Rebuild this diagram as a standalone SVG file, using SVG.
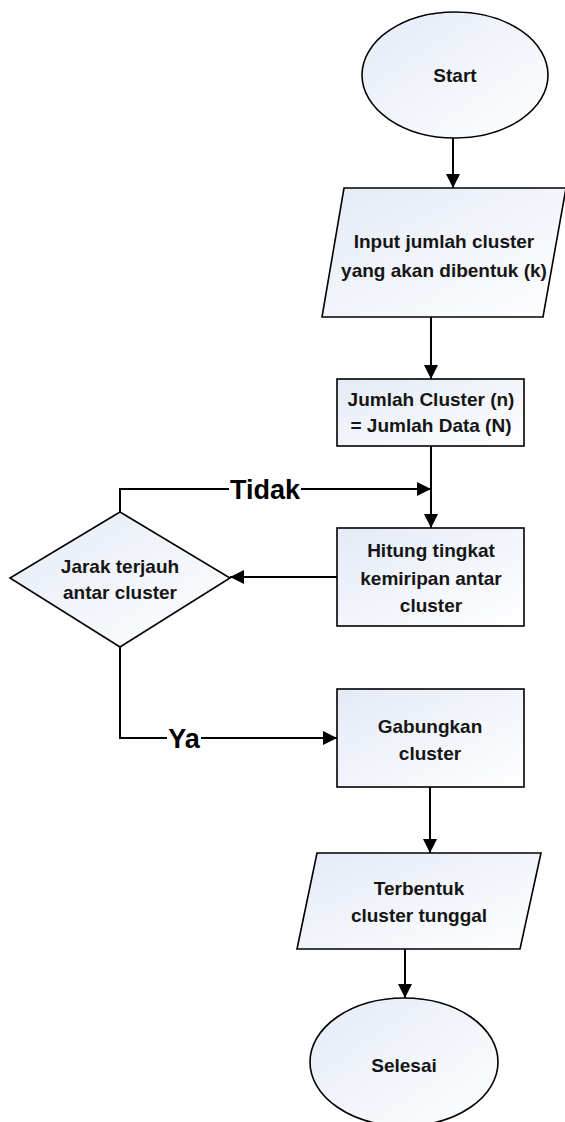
<svg xmlns="http://www.w3.org/2000/svg" width="565" height="1122" viewBox="0 0 565 1122">
<defs>
<linearGradient id="fillg" x1="0" y1="0" x2="1" y2="1">
<stop offset="0" stop-color="#e4eaf6"/>
<stop offset="1" stop-color="#ffffff"/>
</linearGradient>
<marker id="arr" viewBox="0 0 14 14" refX="14" refY="7" markerWidth="14" markerHeight="14" markerUnits="userSpaceOnUse" orient="auto">
<path d="M0,0 L14,7 L0,14 Z" fill="#000"/>
</marker>
</defs>
<style>
.shape{fill:url(#fillg);stroke:#000;stroke-width:1.6}
.lbl{font-family:"Liberation Sans",Arial,sans-serif;font-weight:bold;font-size:19px;fill:#151515;text-anchor:middle}
.big{font-family:"Liberation Sans",Arial,sans-serif;font-weight:bold;font-size:27px;fill:#000;text-anchor:middle}
.conn{fill:none;stroke:#000;stroke-width:2}
</style>
<rect width="565" height="1122" fill="#fff"/>
<g id="connectors">
<path class="conn" d="M453,137 V188" marker-end="url(#arr)"/>
<path class="conn" d="M431,317 V379" marker-end="url(#arr)"/>
<path class="conn" d="M431,446 V528" marker-end="url(#arr)"/>
<path class="conn" d="M120,512 V489 H431" marker-end="url(#arr)"/>
<path class="conn" d="M337,577 H230" marker-end="url(#arr)"/>
<path class="conn" d="M120,647 V738 H337" marker-end="url(#arr)"/>
<path class="conn" d="M430,787 V853" marker-end="url(#arr)"/>
<path class="conn" d="M405,949 V998" marker-end="url(#arr)"/>
<rect x="229" y="476" width="72" height="28" fill="#fff"/>
<text class="big" x="265" y="499">Tidak</text>
<rect x="167" y="725" width="34" height="28" fill="#fff"/>
<text class="big" x="184" y="748">Ya</text>
</g>
<g id="start">
<ellipse class="shape" cx="455" cy="75" rx="93" ry="63"/>
<text class="lbl" x="455" y="82">Start</text>
</g>
<g id="input">
<polygon class="shape" points="344,188 566,188 543,317 322,317"/>
<text class="lbl" x="444" y="248">Input jumlah cluster</text>
<text class="lbl" x="444" y="277">yang akan dibentuk (k)</text>
</g>
<g id="init">
<rect class="shape" x="337" y="379" width="187" height="67"/>
<text class="lbl" x="431" y="406">Jumlah Cluster (n)</text>
<text class="lbl" x="431" y="432">= Jumlah Data (N)</text>
</g>
<g id="hitung">
<rect class="shape" x="337" y="528" width="187" height="98"/>
<text class="lbl" x="431" y="557">Hitung tingkat</text>
<text class="lbl" x="431" y="585">kemiripan antar</text>
<text class="lbl" x="431" y="612">cluster</text>
</g>
<g id="decision">
<polygon class="shape" points="120,512 230,578 120,647 10,578"/>
<text class="lbl" x="120" y="573">Jarak terjauh</text>
<text class="lbl" x="120" y="599">antar cluster</text>
</g>
<g id="gabung">
<rect class="shape" x="337" y="689" width="187" height="98"/>
<text class="lbl" x="430" y="733">Gabungkan</text>
<text class="lbl" x="430" y="760">cluster</text>
</g>
<g id="output">
<polygon class="shape" points="317,853 541,853 520,949 297,949"/>
<text class="lbl" x="419" y="895">Terbentuk</text>
<text class="lbl" x="419" y="922">cluster tunggal</text>
</g>
<g id="end">
<ellipse class="shape" cx="404" cy="1062" rx="94" ry="64"/>
<text class="lbl" x="404" y="1072">Selesai</text>
</g>
</svg>
